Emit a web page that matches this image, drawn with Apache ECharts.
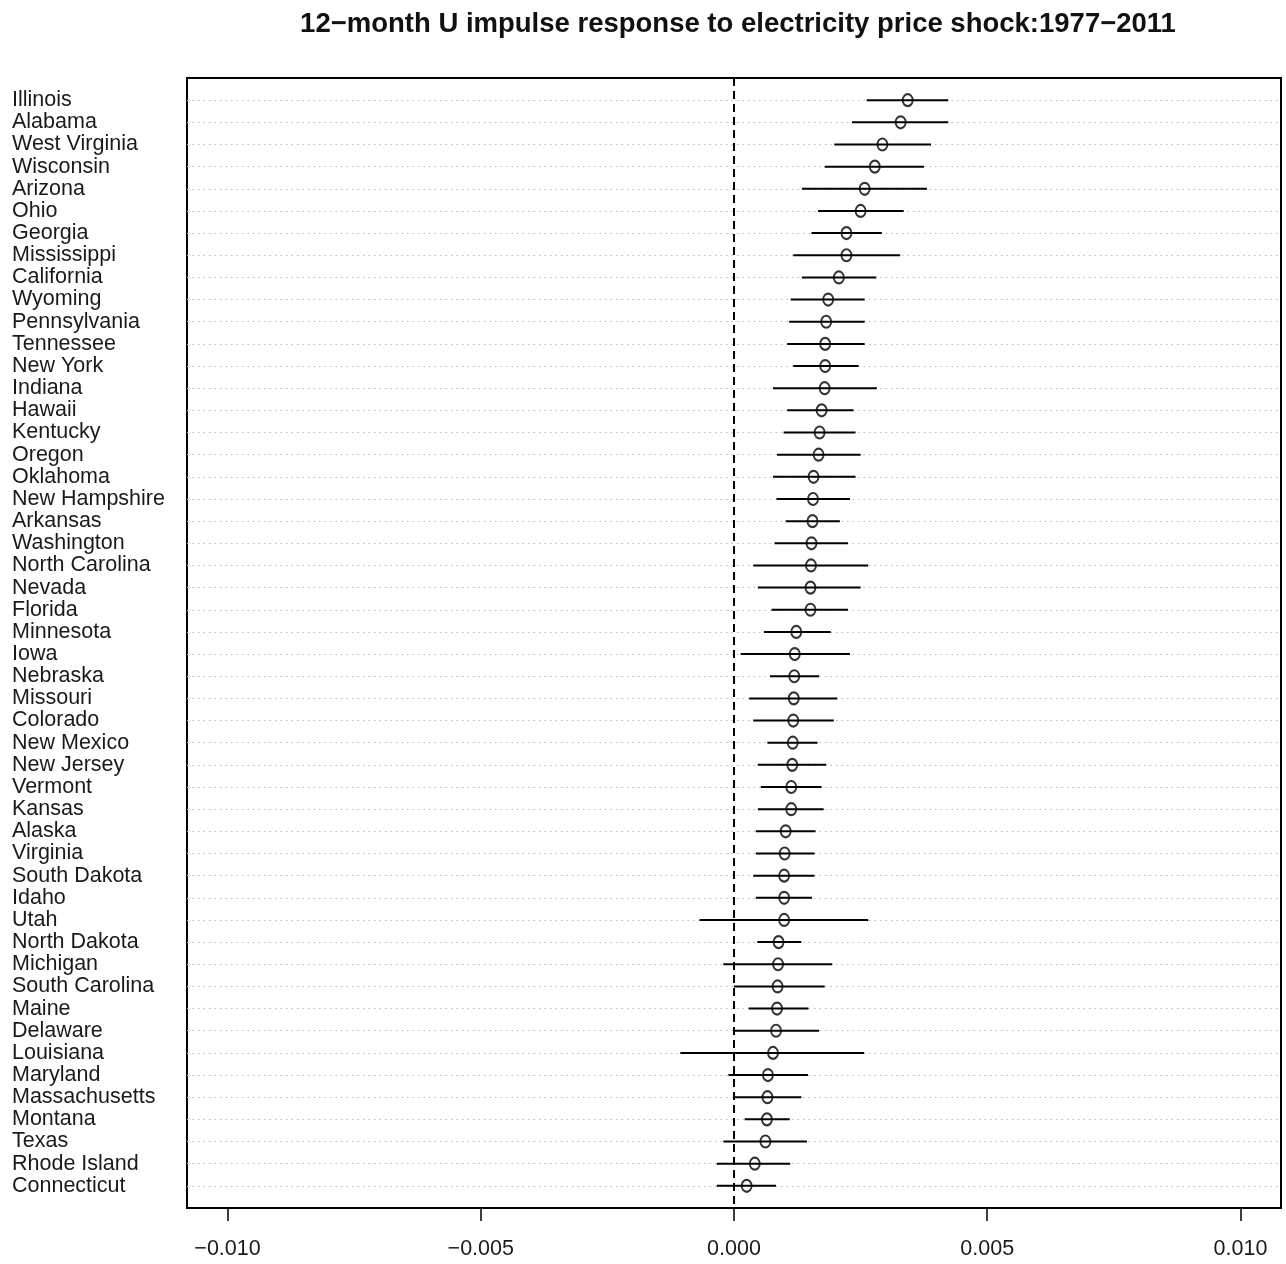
<!DOCTYPE html>
<html>
<head>
<meta charset="utf-8">
<title>12-month U impulse response to electricity price shock</title>
<script src="https://cdn.jsdelivr.net/npm/echarts@6/dist/echarts.min.js"></script>
<style>
  html, body { margin: 0; padding: 0; background: #fff; }
  #chart { width: 1286px; height: 1264px; }
</style>
</head>
<body>
<div id="chart"></div>
<script>
// States, ordered from largest to smallest response
const states = [
  'Illinois', 'Alabama', 'West Virginia', 'Wisconsin', 'Arizona', 'Ohio', 'Georgia',
  'Mississippi', 'California', 'Wyoming', 'Pennsylvania', 'Tennessee', 'New York',
  'Indiana', 'Hawaii', 'Kentucky', 'Oregon', 'Oklahoma', 'New Hampshire', 'Arkansas',
  'Washington', 'North Carolina', 'Nevada', 'Florida', 'Minnesota', 'Iowa', 'Nebraska',
  'Missouri', 'Colorado', 'New Mexico', 'New Jersey', 'Vermont', 'Kansas', 'Alaska',
  'Virginia', 'South Dakota', 'Idaho', 'Utah', 'North Dakota', 'Michigan',
  'South Carolina', 'Maine', 'Delaware', 'Louisiana', 'Maryland', 'Massachusetts',
  'Montana', 'Texas', 'Rhode Island', 'Connecticut'
];

// Point estimates of the 12-month response
const estimate = [
  0.00343, 0.00329, 0.00293, 0.00278, 0.00258, 0.00250, 0.00222, 0.00222, 0.00207, 0.00186,
  0.00182, 0.00180, 0.00180, 0.00179, 0.00173, 0.00169, 0.00167, 0.00157, 0.00156, 0.00155,
  0.00153, 0.00152, 0.00151, 0.00151, 0.00123, 0.00120, 0.00119, 0.00118, 0.00117, 0.00116,
  0.00115, 0.00113, 0.00113, 0.00102, 0.00100, 0.00099, 0.00099, 0.00099, 0.00088, 0.00087,
  0.00086, 0.00085, 0.00083, 0.00077, 0.00067, 0.00066, 0.00065, 0.00062, 0.00041, 0.00025
];

// Lower and upper bounds of each interval
const lower = [
  0.00262, 0.00233, 0.00198, 0.00179, 0.00134, 0.00166, 0.00153, 0.00117, 0.00134, 0.00112,
  0.00109, 0.00105, 0.00117, 0.00077, 0.00105, 0.00098, 0.00085, 0.00077, 0.00084, 0.00102,
  0.00080, 0.00038, 0.00047, 0.00074, 0.00059, 0.00013, 0.00071, 0.00030, 0.00038, 0.00066,
  0.00047, 0.00053, 0.00047, 0.00043, 0.00043, 0.00038, 0.00043, -0.00068, 0.00046, -0.00021,
  0.00000, 0.00029, 0.00000, -0.00106, -0.00011, 0.00000, 0.00021, -0.00021, -0.00034, -0.00034
];
const upper = [
  0.00423, 0.00423, 0.00389, 0.00375, 0.00381, 0.00335, 0.00292, 0.00328, 0.00281, 0.00258,
  0.00258, 0.00258, 0.00246, 0.00282, 0.00236, 0.00240, 0.00250, 0.00240, 0.00229, 0.00209,
  0.00225, 0.00265, 0.00250, 0.00225, 0.00191, 0.00229, 0.00168, 0.00204, 0.00197, 0.00165,
  0.00182, 0.00173, 0.00177, 0.00161, 0.00159, 0.00159, 0.00154, 0.00265, 0.00133, 0.00194,
  0.00179, 0.00147, 0.00168, 0.00257, 0.00146, 0.00133, 0.00110, 0.00144, 0.00111, 0.00083
];

// x-axis tick values and their printed labels
const tickValues = [-0.010, -0.005, 0.000, 0.005, 0.010];
const tickLabels = ['\u22120.010', '\u22120.005', '0.000', '0.005', '0.010'];

const titleText = '12\u2212month U impulse response to electricity price shock:1977\u22122011';

// Rows are placed at 1..n on a value axis running 0..n+1
const pointData = estimate.map((v, i) => [v, i + 1]);
const intervalData = lower.map((lo, i) => [lo, upper[i], i + 1]);

const FONT = '"Liberation Sans", Arial, sans-serif';

const chart = echarts.init(document.getElementById('chart'), null, { renderer: 'canvas' });

chart.setOption({
  backgroundColor: '#ffffff',
  animation: false,
  title: {
    text: titleText,
    left: 733,
    top: 5,
    textAlign: 'center',
    textStyle: { fontFamily: FONT, fontSize: 27.5, fontWeight: 'bold', color: '#111' }
  },
  grid: {
    left: 187, right: 5, top: 78, bottom: 56,
    show: true, borderColor: '#000', borderWidth: 2, backgroundColor: 'transparent'
  },
  xAxis: {
    type: 'value',
    position: 'bottom',
    min: -0.0108,
    max: 0.0108,
    axisLine: { show: true, onZero: false, lineStyle: { color: '#000', width: 2 } },
    axisTick: {
      show: true, inside: false, length: 13, customValues: tickValues,
      lineStyle: { color: '#000', width: 1.5 }
    },
    axisLabel: {
      customValues: tickValues,
      margin: 30,
      fontFamily: FONT, fontSize: 21.5, color: '#1a1a1a',
      formatter: v => {
        const k = tickValues.findIndex(t => Math.abs(t - v) < 1e-9);
        return k >= 0 ? tickLabels[k] : '';
      }
    },
    splitLine: { show: false }
  },
  yAxis: {
    type: 'value',
    inverse: true,
    min: 0,
    max: states.length + 1,
    interval: 1,
    axisLine: { show: false, onZero: false },
    axisTick: { show: false },
    axisLabel: {
      align: 'left',
      margin: 175,
      fontFamily: FONT, fontSize: 21.5, color: '#1a1a1a',
      formatter: v => states[v - 1] || ''
    },
    splitLine: {
      show: true,
      showMinLine: false,
      showMaxLine: false,
      lineStyle: { color: '#b8b8b8', type: [1.5, 4], width: 1 }
    }
  },
  series: [
    {
      name: 'interval',
      type: 'custom',
      data: intervalData,
      encode: { x: [0, 1], y: 2 },
      renderItem: (params, api) => {
        const row = api.value(2);
        const a = api.coord([api.value(0), row]);
        const b = api.coord([api.value(1), row]);
        return {
          type: 'line',
          shape: { x1: a[0], y1: a[1], x2: b[0], y2: b[1] },
          style: { stroke: '#000', lineWidth: 2 }
        };
      },
      z: 3
    },
    {
      name: 'estimate',
      type: 'scatter',
      data: pointData,
      symbol: 'circle',
      symbolSize: [10, 12],
      itemStyle: { color: 'rgba(0,0,0,0)', borderColor: '#000', borderWidth: 2 },
      z: 4,
      markLine: {
        silent: true,
        symbol: 'none',
        label: { show: false },
        lineStyle: { color: '#000', type: [8, 5], width: 2 },
        data: [{ xAxis: 0 }]
      }
    }
  ]
});
</script>
</body>
</html>
